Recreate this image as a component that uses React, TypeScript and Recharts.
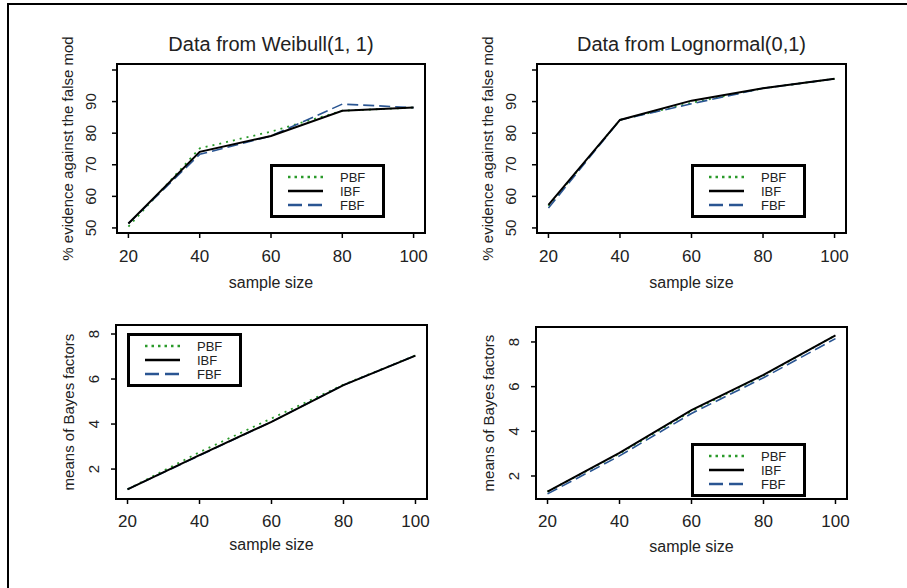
import React from 'react';
import { LineChart, Line, XAxis, YAxis, Legend, ReferenceArea } from 'recharts';

const FONT = '"Liberation Sans", Arial, Helvetica, sans-serif';

// sample sizes on the x axis
const sampleSizes = [20, 40, 60, 80, 100];

// % evidence against the false model, Weibull(1,1) data
const weibullEvidencePBF = [50.4, 75.2, 80.5, 87.1, 88.1];
const weibullEvidenceIBF = [51.4, 74.1, 79.1, 87.1, 88.1];
const weibullEvidenceFBF = [51.4, 73.3, 79.1, 89.2, 88.1];

// % evidence against the false model, Lognormal(0,1) data
const lognormEvidencePBF = [57.0, 84.2, 89.6, 94.2, 97.2];
const lognormEvidenceIBF = [57.3, 84.2, 90.3, 94.2, 97.2];
const lognormEvidenceFBF = [56.3, 84.2, 89.3, 94.2, 97.2];

// means of Bayes factors
const weibullBayesPBF = [1.1, 2.75, 4.25, 5.75, 7.05];
const weibullBayesIBF = [1.1, 2.62, 4.1, 5.73, 7.04];
const weibullBayesFBF = [1.1, 2.6, 4.1, 5.73, 7.04];

const lognormBayesPBF = [1.3, 3.0, 4.9, 6.5, 8.3];
const lognormBayesIBF = [1.3, 3.03, 4.95, 6.53, 8.3];
const lognormBayesFBF = [1.2, 2.9, 4.8, 6.4, 8.15];

const evidenceTicks = [50, 60, 70, 80, 90, 100];
const evidenceTickLabels = ['50', '60', '70', '80', '90', ''];
const bayesTicks = [2, 4, 6, 8];
const bayesTickLabels = ['2', '4', '6', '8'];

const series = [
  { key: 'pbf', name: 'PBF', color: '#2a9a2a', dash: '2 5', width: 1.8, legendDash: '2.5 4' },
  { key: 'fbf', name: 'FBF', color: '#2a5592', dash: '11 5', width: 1.6, legendDash: '14 6' },
  { key: 'ibf', name: 'IBF', color: '#000000', dash: undefined, width: 2, legendDash: undefined },
];
const legendOrder = ['pbf', 'ibf', 'fbf'];

const toRows = (pbf: number[], ibf: number[], fbf: number[]) =>
  sampleSizes.map((n, i) => ({ n, pbf: pbf[i], ibf: ibf[i], fbf: fbf[i] }));

const LegendBox = () => (
  <svg width={115} height={54} style={{ display: 'block' }}>
    <rect x={1.5} y={1.5} width={112} height={51} fill="#fff" stroke="#000" strokeWidth={3} />
    {legendOrder.map((k, i) => {
      const s = series.find((d) => d.key === k)!;
      const y = 13 + i * 14;
      return (
        <g key={k}>
          <line x1={18} x2={53} y1={y} y2={y} stroke={s.color} strokeWidth={2.5} strokeDasharray={s.legendDash} />
          <text x={70} y={y} dy="0.36em" fontSize={13} fill="#222" fontFamily={FONT}>
            {s.name}
          </text>
        </g>
      );
    })}
  </svg>
);

const makeYTick = (ticks: number[], labels: string[], shift: number) => (props: any) => {
  const { x, y, payload } = props;
  const idx = ticks.indexOf(payload.value);
  const label = idx >= 0 ? labels[idx] : String(payload.value);
  return (
    <text
      transform={`translate(${x - shift},${y}) rotate(-90)`}
      textAnchor="middle"
      dy="0.36em"
      style={{ fontSize: 15, fontFamily: FONT }}
      fill="#222"
    >
      {label}
    </text>
  );
};

interface PanelProps {
  left: number;
  top: number;
  width: number;
  height: number;
  yAxisWidth: number;
  xAxisHeight: number;
  marginTop: number;
  data: { n: number; pbf: number; ibf: number; fbf: number }[];
  yDomain: [number, number];
  yTicks: number[];
  yTickLabels: string[];
  yTitle: string;
  xTickMargin: number;
  xTitleOffset: number;
  yTitleOffset: number;
  yTickShift: number;
  legendLeft: number;
  legendTop: number;
}

const xDomain: [number, number] = [16.8, 103.2];

const Panel: React.FC<PanelProps> = (p) => (
  <div style={{ position: 'absolute', left: p.left, top: p.top }}>
    <LineChart
      width={p.width}
      height={p.height}
      data={p.data}
      margin={{ top: p.marginTop, right: 10, left: 0, bottom: 0 }}
    >
      <XAxis
        dataKey="n"
        type="number"
        domain={xDomain}
        ticks={sampleSizes}
        interval={0}
        allowDataOverflow
        height={p.xAxisHeight}
        axisLine={false}
        tickSize={5}
        tickMargin={p.xTickMargin}
        tickLine={{ stroke: '#000', strokeWidth: 1.5 }}
        tick={{ fontSize: 17, fill: '#222', fontFamily: FONT }}
        label={{ value: 'sample size', position: 'insideBottom', offset: p.xTitleOffset, fontSize: 16, fill: '#222', fontFamily: FONT }}
      />
      <YAxis
        type="number"
        domain={p.yDomain}
        ticks={p.yTicks}
        interval={0}
        allowDataOverflow
        width={p.yAxisWidth}
        axisLine={false}
        tickSize={5}
        tickLine={{ stroke: '#000', strokeWidth: 1.5 }}
        tick={makeYTick(p.yTicks, p.yTickLabels, p.yTickShift)}
        label={{
          value: p.yTitle,
          angle: -90,
          position: 'insideLeft',
          offset: p.yTitleOffset,
          fontSize: 15,
          fill: '#222',
          fontFamily: FONT,
          style: { textAnchor: 'middle' },
        }}
      />
      {series.map((s) => (
        <Line
          key={s.key}
          dataKey={s.key}
          name={s.name}
          type="linear"
          stroke={s.color}
          strokeWidth={s.width}
          strokeDasharray={s.dash}
          dot={false}
          activeDot={false}
          isAnimationActive={false}
        />
      ))}
      <ReferenceArea
        x1={xDomain[0]}
        x2={xDomain[1]}
        y1={p.yDomain[0]}
        y2={p.yDomain[1]}
        fill="none"
        fillOpacity={0}
        stroke="#000"
        strokeWidth={2}
        ifOverflow="visible"
      />
      <Legend
        layout="vertical"
        align="center"
        verticalAlign="middle"
        content={() => <LegendBox />}
        wrapperStyle={{ left: p.legendLeft - p.left, top: p.legendTop - p.top, width: 115, height: 54 }}
      />
    </LineChart>
  </div>
);

const titleStyle = (left: number, width: number): React.CSSProperties => ({
  position: 'absolute',
  left,
  width,
  top: 34,
  textAlign: 'center',
  fontSize: 20,
  lineHeight: '20px',
  color: '#222',
  fontFamily: FONT,
});

export default function App() {
  return (
    <div style={{ position: 'absolute', left: 0, top: 0, width: 907, height: 588, background: '#fff', overflow: 'hidden' }}>
      <div
        style={{
          position: 'absolute',
          left: 7,
          top: 3,
          width: 900,
          height: 585,
          borderLeft: '2px solid #000',
          borderTop: '2px solid #000',
        }}
      />
      <div style={titleStyle(117, 308)}>Data from Weibull(1, 1)</div>
      <div style={titleStyle(537, 309)}>Data from Lognormal(0,1)</div>

      <Panel
        left={40}
        top={25}
        width={395}
        height={280}
        yAxisWidth={77}
        xAxisHeight={72}
        marginTop={39}
        data={toRows(weibullEvidencePBF, weibullEvidenceIBF, weibullEvidenceFBF)}
        yDomain={[48.4, 101.9]}
        yTicks={evidenceTicks}
        yTickLabels={evidenceTickLabels}
        yTitle="% evidence against the false mod"
        xTickMargin={12}
        xTitleOffset={17}
        yTitleOffset={28}
        yTickShift={19}
        legendLeft={270}
        legendTop={164}
      />
      <Panel
        left={460}
        top={25}
        width={396}
        height={280}
        yAxisWidth={77}
        xAxisHeight={72}
        marginTop={39}
        data={toRows(lognormEvidencePBF, lognormEvidenceIBF, lognormEvidenceFBF)}
        yDomain={[48.4, 101.9]}
        yTicks={evidenceTicks}
        yTickLabels={evidenceTickLabels}
        yTitle="% evidence against the false mod"
        xTickMargin={12}
        xTitleOffset={17}
        yTitleOffset={28}
        yTickShift={19}
        legendLeft={691}
        legendTop={164}
      />
      <Panel
        left={40}
        top={316}
        width={397}
        height={250}
        yAxisWidth={76}
        xAxisHeight={67}
        marginTop={9}
        data={toRows(weibullBayesPBF, weibullBayesIBF, weibullBayesFBF)}
        yDomain={[0.67, 8.4]}
        yTicks={bayesTicks}
        yTickLabels={bayesTickLabels}
        yTitle="means of Bayes factors"
        xTickMargin={11}
        xTitleOffset={16}
        yTitleOffset={29}
        yTickShift={15}
        legendLeft={127}
        legendTop={333}
      />
      <Panel
        left={460}
        top={318}
        width={397}
        height={250}
        yAxisWidth={76}
        xAxisHeight={69}
        marginTop={9}
        data={toRows(lognormBayesPBF, lognormBayesIBF, lognormBayesFBF)}
        yDomain={[0.97, 8.67]}
        yTicks={bayesTicks}
        yTickLabels={bayesTickLabels}
        yTitle="means of Bayes factors"
        xTickMargin={11}
        xTitleOffset={16}
        yTitleOffset={29}
        yTickShift={15}
        legendLeft={691}
        legendTop={443}
      />
    </div>
  );
}
